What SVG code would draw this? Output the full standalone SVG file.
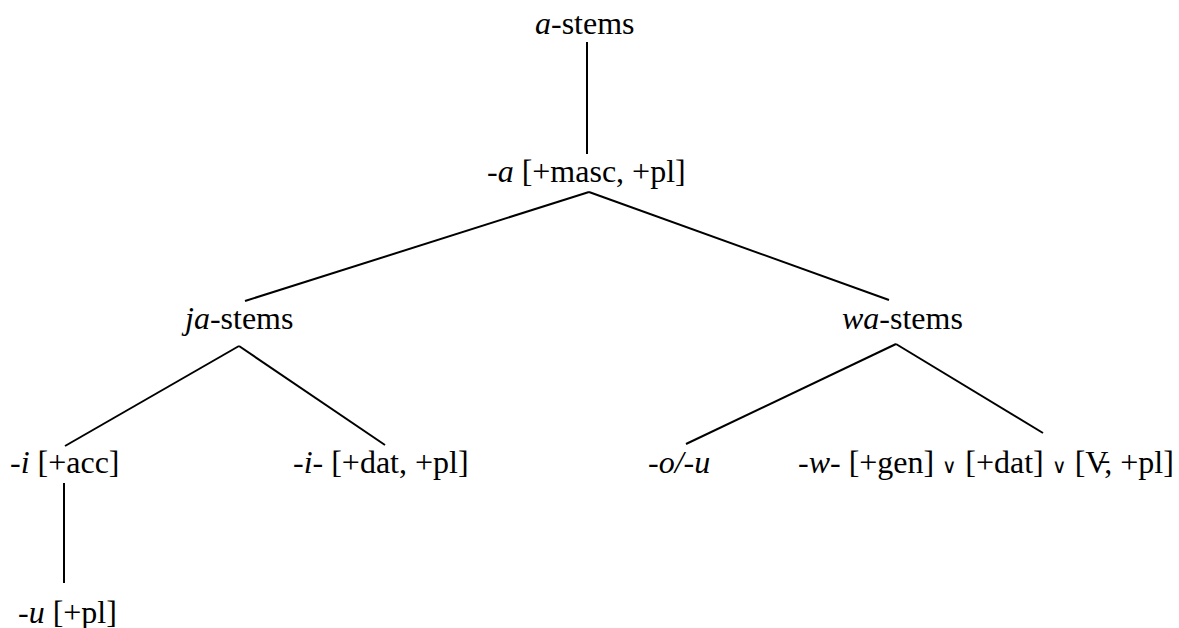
<svg xmlns="http://www.w3.org/2000/svg" width="1179" height="628" viewBox="0 0 1179 628" font-family="Liberation Serif, Times New Roman, serif" font-size="32">
<style>
.i{font-style:italic}
.e{stroke:#000;stroke-width:2}
</style>
<rect width="1179" height="628" fill="#fff"/>
<g id="edges">
<line class="e" x1="587" y1="42" x2="587" y2="154"/>
<line class="e" x1="589" y1="192" x2="245" y2="301"/>
<line class="e" x1="589" y1="192" x2="889" y2="300"/>
<line class="e" x1="239" y1="346" x2="65" y2="446"/>
<line class="e" x1="239" y1="346" x2="385" y2="445"/>
<line class="e" x1="896" y1="344" x2="686" y2="444"/>
<line class="e" x1="896" y1="344" x2="1043" y2="433"/>
<line class="e" x1="64" y1="483" x2="64" y2="583"/>
</g>
<g id="n-astems"><text x="535" y="34"><tspan class="i">a</tspan>-stems</text></g>
<g id="n-a"><text x="487" y="182">-<tspan class="i">a</tspan> [+masc, +pl]</text></g>
<g id="n-jastems"><text x="185" y="329"><tspan class="i">ja</tspan>-stems</text></g>
<g id="n-wastems"><text x="842" y="329"><tspan class="i">wa</tspan>-stems</text></g>
<g id="n-iacc"><text x="10" y="473">-<tspan class="i">i</tspan> [+acc]</text></g>
<g id="n-idat"><text x="293" y="473">-<tspan class="i">i</tspan>- [+dat, +pl]</text></g>
<g id="n-ou"><text x="648" y="473" class="i">-o/-u</text></g>
<g id="n-w"><text x="798" y="473">-<tspan class="i">w</tspan>- [+gen] <tspan font-size="20">∨</tspan> [+dat] <tspan font-size="20">∨</tspan> [V̵, +pl]</text></g>
<g id="n-upl"><text x="18" y="623">-<tspan class="i">u</tspan> [+pl]</text></g>
</svg>
